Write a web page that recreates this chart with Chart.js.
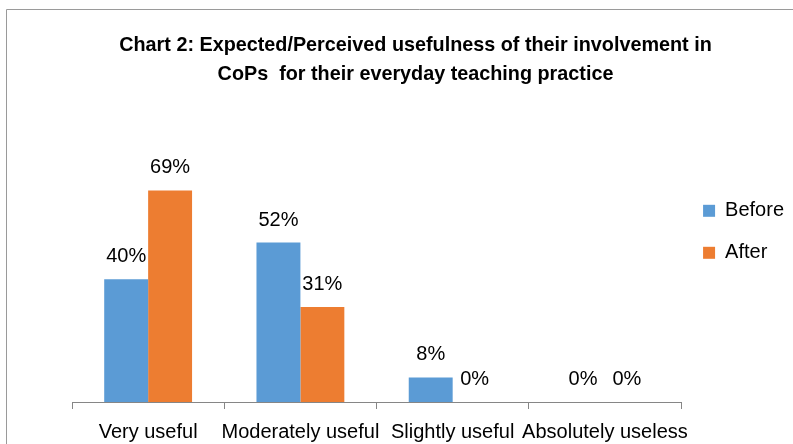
<!DOCTYPE html>
<html>
<head>
<meta charset="utf-8">
<script src="https://cdn.jsdelivr.net/npm/chart.js@4/dist/chart.umd.min.js"></script>
<style>
  html, body { margin: 0; padding: 0; background: #fff; overflow: hidden; }
  #wrap { width: 793px; height: 444px; overflow: hidden; position: relative; }
  #box { width: 832px; height: 444px; position: absolute; left: 0; top: 0; }
</style>
</head>
<body>
<div id="wrap"><div id="box"><canvas id="chart"></canvas></div></div>
<script>
const categories = ['Very useful', 'Moderately useful', 'Slightly useful', 'Absolutely useless']
const before = [40, 52, 8, 0]
const after = [69, 31, 0, 0]
const titleLines = ['Chart 2: Expected/Perceived usefulness of their involvement in', 'CoPs  for their everyday teaching practice']

const FONT = "'Liberation Sans', Arial, sans-serif"

// thin frame along the top and left, like the original chart border
const frame = {
	id: 'frame',
	beforeDraw(chart) {
		const ctx = chart.ctx
		ctx.save()
		ctx.strokeStyle = '#9a9a9a'
		ctx.lineWidth = 1
		ctx.beginPath()
		ctx.moveTo(6.5, 444)
		ctx.lineTo(6.5, 9.5)
		ctx.lineTo(832, 9.5)
		ctx.stroke()
		ctx.restore()
	}
}

// value labels above each bar
const valueLabels = {
	id: 'valueLabels',
	afterDatasetsDraw(chart) {
		const ctx = chart.ctx
		ctx.save()
		ctx.font = '20px ' + FONT
		ctx.fillStyle = '#000'
		ctx.textAlign = 'center'
		ctx.textBaseline = 'alphabetic'
		chart.data.datasets.forEach((ds, i) => {
			chart.getDatasetMeta(i).data.forEach((bar, j) => {
				ctx.fillText(ds.data[j] + '%', bar.x, bar.y - 17)
			})
		})
		ctx.restore()
	}
}

new Chart(document.getElementById('chart'), {
	type: 'bar',
	data: {
		labels: categories,
		datasets: [{
			label: 'Before',
			data: before,
			backgroundColor: '#5B9BD5',
			barPercentage: 1,
			categoryPercentage: 0.577
		}, {
			label: 'After',
			data: after,
			backgroundColor: '#ED7D31',
			barPercentage: 1,
			categoryPercentage: 0.577
		}]
	},
	options: {
		responsive: true,
		maintainAspectRatio: false,
		animation: false,
		layout: { padding: { left: 37, right: 38, top: 0, bottom: -11 } },
		plugins: {
			title: {
				display: true,
				text: titleLines,
				color: '#000',
				font: { family: FONT, size: 19.8, weight: 'bold', lineHeight: 1.45 },
				padding: { top: 31, bottom: 7 }
			},
			legend: {
				position: 'right',
				align: 'start',
				title: { display: true, text: ' ', padding: 78, font: { size: 19 } },
				labels: {
					color: '#000',
					font: { family: FONT, size: 20 },
					boxWidth: 12,
					boxHeight: 12,
					padding: 22
				}
			},
			tooltip: { enabled: false }
		},
		scales: {
			y: {
				min: 0,
				max: 100,
				ticks: { display: false },
				grid: { display: false },
				border: { display: false },
				afterFit(scale) { scale.width = 35 }
			},
			x: {
				border: { display: true, color: '#868686', width: 1 },
				grid: { drawOnChartArea: false, drawTicks: true, tickLength: 7, color: '#868686' },
				ticks: {
					color: '#000',
					font: { family: FONT, size: 20 },
					padding: 11,
					maxRotation: 0,
					autoSkip: false
				}
			}
		}
	},
	plugins: [frame, valueLabels]
})
</script>
</body>
</html>
